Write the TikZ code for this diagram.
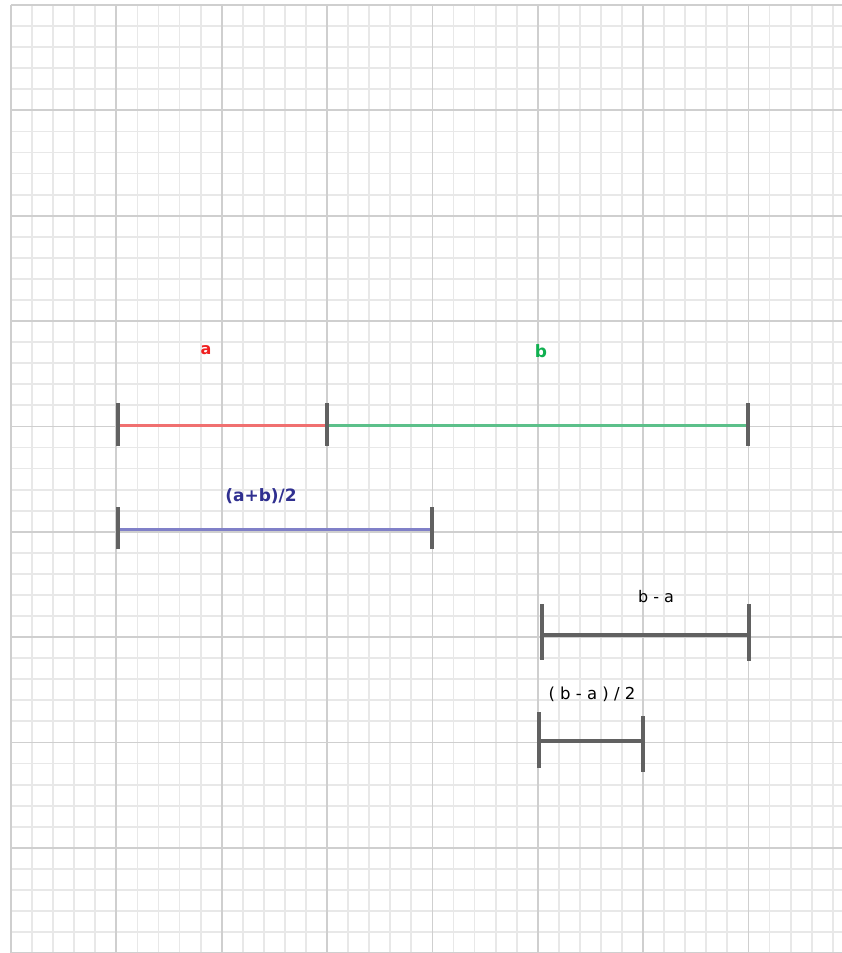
\documentclass[tikz,border=0pt]{standalone}
\usepackage{fontspec}
\setmainfont{DejaVu Sans}
\begin{document}
\begin{tikzpicture}[x=1pt,y=-1pt,
  minor/.style={draw=black!9,line width=1.8pt},
  major/.style={draw=black!19,line width=1.8pt},
  tick/.style={draw=black!62,line width=3.4pt},
  seg/.style={line width=3pt},
  lbl/.style={inner sep=0pt,font=\fontsize{16}{18}\selectfont}]
\definecolor{redseg}{HTML}{F07070}
\definecolor{greenseg}{HTML}{5CC08A}
\definecolor{blueseg}{HTML}{8080C8}
\definecolor{redtxt}{HTML}{F02020}
\definecolor{greentxt}{HTML}{10B050}
\definecolor{bluetxt}{HTML}{303090}
\useasboundingbox (0,0) rectangle (842,953);
\fill[white] (0,0) rectangle (842,953);
% minor grid
\foreach \k in {0,...,39} {\draw[minor] ({11+21.07*\k},5) -- ({11+21.07*\k},953);}
\foreach \k in {0,...,45} {\draw[minor] (11,{5+21.07*\k}) -- (842,{5+21.07*\k});}
% major grid
\foreach \k in {0,...,7} {\draw[major] ({11+105.35*\k},5) -- ({11+105.35*\k},953);}
\foreach \k in {0,...,9} {\draw[major] (11,{5+105.35*\k}) -- (842,{5+105.35*\k});}
% segment a and b
\coordinate (a0) at (118,425);
\coordinate (a1) at (327,425);
\coordinate (b1) at (748,425);
\draw[seg,draw=redseg] (a0) -- (a1);
\draw[seg,draw=greenseg] (a1) -- (b1);
\draw[tick] (118,403) -- (118,446);
\draw[tick] (327,403) -- (327,446);
\draw[tick] (748,403) -- (748,446);
\node[lbl,text=redtxt,font=\bfseries\fontsize{16}{18}\selectfont] (la) at (206,350) {a};
\node[lbl,text=greentxt,font=\bfseries\fontsize{17}{19}\selectfont] (lb) at (541,351) {b};
% (a+b)/2
\coordinate (m0) at (118,529);
\coordinate (m1) at (432,529);
\draw[seg,draw=blueseg] (m0) -- (m1);
\draw[tick] (118,507) -- (118,549);
\draw[tick] (432,507) -- (432,549);
\node[lbl,text=bluetxt,font=\bfseries\fontsize{17}{19}\selectfont] (lm) at (261,496) {(a+b)/2};
% b - a
\coordinate (d0) at (542,635);
\coordinate (d1) at (749,635);
\draw[tick] (d0) -- (d1);
\draw[tick] (542,604) -- (542,660);
\draw[tick] (749,604) -- (749,661);
\node[lbl] (ld) at (656,597) {b - a};
% (b - a)/2
\coordinate (h0) at (539,741);
\coordinate (h1) at (643,741);
\draw[tick] (h0) -- (h1);
\draw[tick] (539,712) -- (539,768);
\draw[tick] (643,716) -- (643,772);
\node[lbl,font=\fontsize{16.5}{18}\selectfont] (lh) at (592,694) {( b - a ) / 2};
\end{tikzpicture}
\end{document}
